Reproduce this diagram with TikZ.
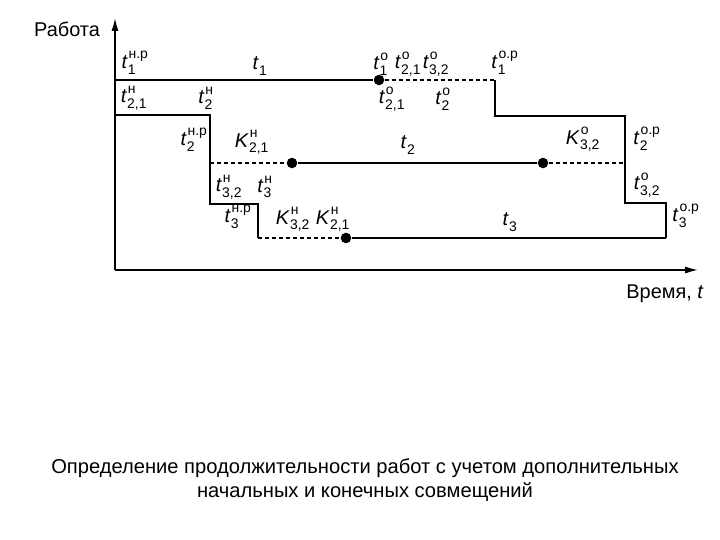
\documentclass[tikz,border=0pt]{standalone}
\usepackage{amsmath}
\usepackage{fontspec}
\setmainfont{Liberation Sans}
\usetikzlibrary{arrows,arrows.meta,positioning,calc}

\newcommand{\wlbl}[3]{${\textit{#1}\kern1.3pt}^{\text{\raisebox{1.5pt}{#2}}}_{\kern-0.6pt\text{#3}}$}

\begin{document}
\begin{tikzpicture}[x=0.03cm,y=-0.03cm,
  lbl/.style={font=\fontsize{17}{17}\selectfont, inner sep=0pt},
  axis/.style={line width=1.3pt, -{Latex[length=11pt,width=6pt]}},
  bar/.style={line width=2.3pt},
  edge/.style={line width=1.1pt},
  gap/.style={line width=1.1pt, dash pattern=on 3.5pt off 2.5pt},
  dot/.style={circle, fill, inner sep=0pt, minimum size=9pt}]
  \useasboundingbox (0,0) rectangle (720,540);

  \coordinate (O) at (115,270);
  \coordinate (ytop) at (115,18);
  \coordinate (xend) at (698,270);
  \draw[axis] (O) -- (ytop);
  \draw[axis] (O) -- (xend);
  \node[font=\fontsize{17}{17}\selectfont] (work) at (67,29) {Работа};
  \node[font=\fontsize{17}{17}\selectfont] (time) at (665,294) {Время, \textit{t}};

  \node[dot] (e1) at (379,80) {};
  \node[dot] (s2) at (292,163) {};
  \node[dot] (e2) at (543,163) {};
  \node[dot] (s3) at (346,238) {};

  \coordinate (a1) at (115,80);
  \coordinate (a2) at (115,115);
  \coordinate (b1) at (495,80);
  \coordinate (b2) at (495,116);
  \coordinate (b3) at (625,116);
  \coordinate (b4) at (625,163);
  \coordinate (b5) at (625,203);
  \coordinate (b6) at (666,203);
  \coordinate (b7) at (666,238);
  \coordinate (c1) at (210,115);
  \coordinate (c2) at (210,163);
  \coordinate (c3) at (210,204);
  \coordinate (c4) at (258,204);
  \coordinate (c5) at (258,238);

  \draw[bar] (a1) -- (e1);
  \draw[bar] (s2) -- (e2);
  \draw[bar] (s3) -- (b7);
  \draw[gap] (e1) -- (b1);
  \draw[gap] (c2) -- (s2);
  \draw[gap] (e2) -- (b4);
  \draw[gap] (c5) -- (s3);
  \draw[edge] (b1) -- (b2) -- (b3) -- (b5) -- (b6) -- (b7);
  \draw[edge] (a2) -- (c1) -- (c3) -- (c4) -- (c5);

  \node[lbl] (t1nr) at (135,63) {\wlbl{t}{н.р}{1}};
  \node[lbl] (t1) at (260,66) {\wlbl{t}{}{1}};
  \node[lbl] (t1o) at (381,64) {\wlbl{t}{о}{1}};
  \node[lbl] (t21oa) at (408,64) {\wlbl{t}{о}{2,1}};
  \node[lbl] (t32oa) at (436,64) {\wlbl{t}{о}{3,2}};
  \node[lbl] (t1or) at (505,63) {\wlbl{t}{о.р}{1}};
  \node[lbl] (t21n) at (134,98) {\wlbl{t}{н}{2,1}};
  \node[lbl] (t2n) at (206,98) {\wlbl{t}{н}{2}};
  \node[lbl] (t21ob) at (392,99) {\wlbl{t}{о}{2,1}};
  \node[lbl] (t2o) at (443,99) {\wlbl{t}{о}{2}};
  \node[lbl] (t2nr) at (194,140) {\wlbl{t}{н.р}{2}};
  \node[lbl] (K21na) at (252,142) {\wlbl{K}{н}{2,1}};
  \node[lbl] (t2) at (408,145) {\wlbl{t}{}{2}};
  \node[lbl] (K32o) at (583,139) {\wlbl{K}{о}{3,2}};
  \node[lbl] (t2or) at (647,139) {\wlbl{t}{о.р}{2}};
  \node[lbl] (t32n) at (229,187) {\wlbl{t}{н}{3,2}};
  \node[lbl] (t3n) at (265,187) {\wlbl{t}{н}{3}};
  \node[lbl] (t32o) at (647,185) {\wlbl{t}{о}{3,2}};
  \node[lbl] (t3nr) at (238,217) {\wlbl{t}{н.р}{3}};
  \node[lbl] (K32n) at (293,219) {\wlbl{K}{н}{3,2}};
  \node[lbl] (K21nb) at (333,219) {\wlbl{K}{н}{2,1}};
  \node[lbl] (t3) at (510,222) {\wlbl{t}{}{3}};
  \node[lbl] (t3or) at (686,216) {\wlbl{t}{о.р}{3}};

  \node[align=center, font=\fontsize{17.2}{21}\selectfont] (cap) at (365,480)
    {Определение продолжительности работ с учетом дополнительных\\
     начальных и конечных совмещений};
\end{tikzpicture}
\end{document}
